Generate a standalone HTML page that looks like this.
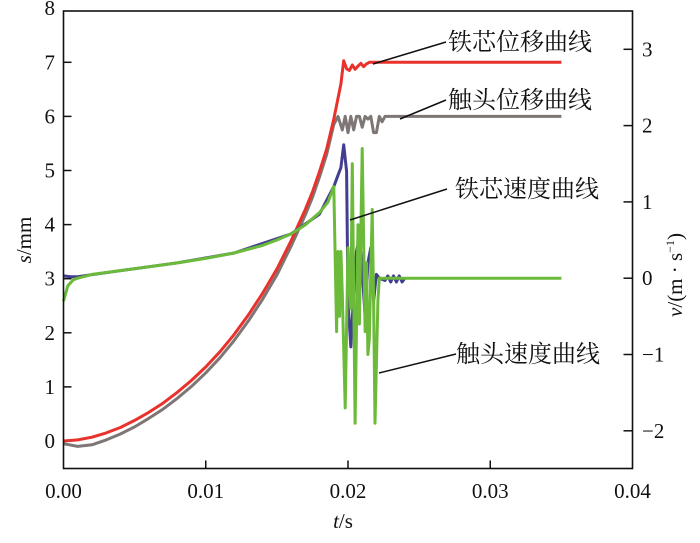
<!DOCTYPE html>
<html><head><meta charset="utf-8"><style>
body{margin:0;background:#fff;}
svg text{font-family:"Liberation Serif","Noto Serif CJK SC",serif;}
</style></head><body>
<svg id="c" width="700" height="538" viewBox="0 0 700 538"></svg>
<script>
const xTicks=[0,0.01,0.02,0.03,0.04];
const xTickLabels=["0.00","0.01","0.02","0.03","0.04"];
const sTicks=[0,1,2,3,4,5,6,7,8];
const vTicks=[-2,-1,0,1,2,3];
const vTickLabels=["\u22122","\u22121","0","1","2","3"];
const redT=[0,0.001,0.002,0.003,0.004,0.005,0.006,0.007,0.008,0.009,0.01,0.011,0.012,0.013,0.014,0.015,0.016,0.017,0.0175,0.018,0.0185,0.019,0.0195,0.0197,0.0199,0.0201,0.0203,0.0205,0.0207,0.0209,0.0211,0.0213,0.0215,0.035];
const redS=[0,0.02,0.07,0.15,0.25,0.38,0.53,0.7,0.9,1.12,1.37,1.65,1.97,2.33,2.73,3.18,3.7,4.28,4.6,4.98,5.4,5.95,6.6,7.03,6.88,6.85,6.95,6.87,6.93,6.98,6.92,6.97,7,7];
const grayT=[0,0.001,0.002,0.003,0.004,0.005,0.006,0.007,0.008,0.009,0.01,0.011,0.012,0.013,0.014,0.015,0.016,0.017,0.0175,0.018,0.0185,0.019,0.0193,0.0196,0.0198,0.02,0.0202,0.0204,0.0206,0.0208,0.021,0.0212,0.0214,0.0216,0.0218,0.022,0.0222,0.0224,0.0226,0.0228,0.035];
const grayS=[-0.05,-0.1,-0.07,0.02,0.13,0.26,0.42,0.59,0.79,1.01,1.26,1.54,1.86,2.22,2.62,3.07,3.6,4.18,4.5,4.88,5.3,5.85,6,5.75,6,5.7,6,5.75,6,6,5.8,6,5.95,6,5.7,5.7,6,5.9,6,6,6];
const blueT=[0,0.0005,0.001,0.004,0.008,0.012,0.016,0.018,0.019,0.0193,0.0195,0.0197,0.0199,0.02,0.0202,0.0204,0.0206,0.0208,0.021,0.0212,0.0214,0.0216,0.0218,0.022,0.0222,0.0226,0.0228,0.023,0.0232,0.0234,0.0236,0.0238,0.024];
const blueV=[0.03,0.02,0.02,0.1,0.2,0.33,0.58,0.84,1.2,1.35,1.45,1.75,1.4,-0.3,-0.9,-0.2,0.35,0.55,0.1,-0.5,0.2,0.4,-0.3,0.05,0,-0.03,0.03,-0.05,0.03,-0.05,0.03,-0.05,0];
const greenT=[0,0.0003,0.0007,0.001,0.002,0.004,0.006,0.008,0.01,0.012,0.014,0.015,0.016,0.017,0.018,0.0186,0.019,0.0192,0.0193,0.0194,0.0195,0.0196,0.0198,0.02,0.0202,0.0203,0.0205,0.0207,0.0208,0.021,0.0212,0.0213,0.0214,0.0215,0.0217,0.0218,0.0219,0.0221,0.0222,0.0223,0.035];
const greenV=[-0.3,-0.1,-0.02,0,0.05,0.1,0.15,0.2,0.26,0.33,0.43,0.5,0.58,0.7,0.86,1.0,1.2,-0.7,0.35,-0.5,0.35,-0.2,-1.7,0.4,-0.4,1.5,-1.9,0.7,-0.6,1.7,-0.7,0.2,-1.0,-0.8,0.9,-0.3,-1.9,-0.3,0,0,0];
const labels=["铁芯位移曲线","触头位移曲线","铁芯速度曲线","触头速度曲线"];
const labelNames=["iron-core-displacement-label","contact-displacement-label","iron-core-velocity-label","contact-velocity-label"];
const labelPos=[[448,50],[448,108],[455,197],[456,362]];
const leaders=[[446,42,373,64],[446,100,400,119],[447,189,350,220],[456,354,379,373]];

const L=63.5,R=632.5,T=11,B=468.5;
const xs=t=>L+t*14225;
const ys=s=>441-54.1*s;
const yv=v=>278.2-76.3*v;
const svg=document.getElementById('c');
const NS='http://www.w3.org/2000/svg';
function mk(tag,attrs,parent){const e=document.createElementNS(NS,tag);for(const k in attrs)e.setAttribute(k,attrs[k]);(parent||svg).appendChild(e);return e;}
function path(T_,Y_,f,color,w,name){
  let d='';T_.forEach((t,i)=>{d+=(i?'L':'M')+xs(t).toFixed(1)+','+f(Y_[i]).toFixed(1);});
  const p=mk('path',{d:d,fill:'none',stroke:color,'stroke-width':w,'stroke-linejoin':'round'});
  
  
}
path(grayT,grayS,ys,'#7d7674',3,'contact-displacement-line');
path(redT,redS,ys,'#e8322b',3,'iron-core-displacement-line');
path(blueT,blueV,yv,'#433f90',3,'iron-core-velocity-line');
path(greenT,greenV,yv,'#6cba3a',3,'contact-velocity-line');

const fr=mk('rect',{x:L,y:T,width:R-L,height:B-T,fill:'none',stroke:'#111','stroke-width':1.6});


xTicks.forEach((t,i)=>{
  const x=xs(t);
  if(i>0&&i<xTicks.length-1){const tk=mk('line',{x1:x,x2:x,y1:B,y2:B-8,stroke:'#111','stroke-width':1.5});
  
  }
  const tx=mk('text',{x:x,y:498,'text-anchor':'middle','font-size':21,fill:'#111'});tx.textContent=xTickLabels[i];
  
  
});
sTicks.forEach(s=>{
  const y=ys(s);
  if(s>0&&s<8){const tk=mk('line',{x1:L,x2:L+8,y1:y,y2:y,stroke:'#111','stroke-width':1.5});
  
  }
  const tx=mk('text',{x:55,y:y+7,'text-anchor':'end','font-size':21,fill:'#111'});tx.textContent=s;
  
  
});
vTicks.forEach((v,i)=>{
  const y=yv(v);
  const tk=mk('line',{x1:R,x2:R-9,y1:y,y2:y,stroke:'#111','stroke-width':1.5});
  
  
  const tx=mk('text',{x:642,y:y+7,'text-anchor':'start','font-size':21,fill:'#111'});tx.textContent=vTickLabels[i];
  
  
});
const xt=mk('text',{x:343,y:528,'text-anchor':'middle','font-size':21,fill:'#111'});
xt.innerHTML='<tspan font-style="italic">t</tspan>/s';


const yt=mk('text',{x:0,y:0,'text-anchor':'middle','font-size':21,fill:'#111',transform:'translate(31,240) rotate(-90)'});
yt.innerHTML='<tspan font-style="italic">s</tspan>/mm';


const yr=mk('text',{x:0,y:0,'text-anchor':'middle','font-size':21,fill:'#111',transform:'translate(682,275) rotate(-90)'});
yr.innerHTML='<tspan font-style="italic">v</tspan>/(m · s<tspan font-size="12" dy="-8">−1</tspan><tspan dy="8">)</tspan>';


labels.forEach((s,i)=>{
  const ln=leaders[i];
  const l=mk('line',{x1:ln[0],y1:ln[1],x2:ln[2],y2:ln[3],stroke:'#111','stroke-width':1.5});
  
  
  const tx=mk('text',{x:labelPos[i][0],y:labelPos[i][1],'font-size':24,fill:'#111'});
  tx.setAttribute('style','font-family:"Noto Serif CJK SC","Noto Sans CJK SC",serif');
  tx.textContent=s;
  
  
});
</script>
</body></html>
